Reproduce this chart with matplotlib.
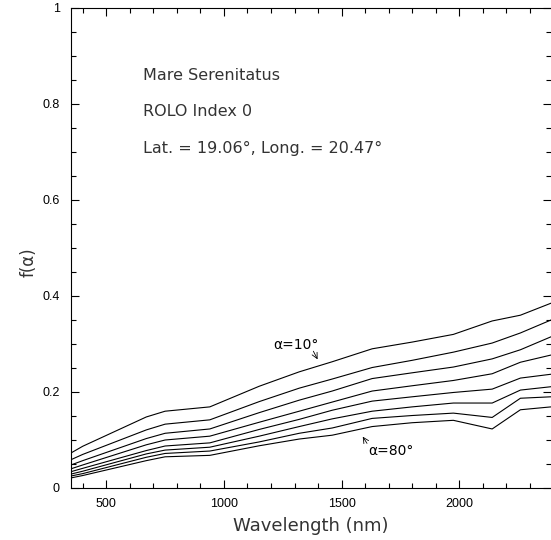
import matplotlib
matplotlib.use("Agg")
import matplotlib.pyplot as plt
from matplotlib.ticker import MultipleLocator

# wavelength nodes (nm)
wavelength = [350, 400, 670, 750, 940, 1150, 1320, 1460, 1630, 1800, 1975, 2140, 2260, 2390]

# f(alpha) for phase angles 10..80 deg
f_10 = [0.073, 0.087, 0.148, 0.160, 0.169, 0.212, 0.242, 0.263, 0.290, 0.304, 0.320, 0.348, 0.360, 0.385]
f_20 = [0.059, 0.070, 0.121, 0.133, 0.142, 0.180, 0.208, 0.227, 0.251, 0.266, 0.283, 0.302, 0.323, 0.350]
f_30 = [0.048, 0.057, 0.103, 0.114, 0.123, 0.157, 0.183, 0.202, 0.228, 0.240, 0.252, 0.269, 0.288, 0.315]
f_40 = [0.040, 0.048, 0.090, 0.100, 0.108, 0.137, 0.160, 0.179, 0.202, 0.213, 0.224, 0.238, 0.262, 0.277]
f_50 = [0.034, 0.041, 0.078, 0.0875, 0.094, 0.122, 0.143, 0.162, 0.181, 0.190, 0.199, 0.206, 0.229, 0.237]
f_60 = [0.029, 0.035, 0.071, 0.079, 0.085, 0.108, 0.128, 0.144, 0.160, 0.169, 0.177, 0.177, 0.204, 0.211]
f_70 = [0.025, 0.030, 0.064, 0.072, 0.077, 0.096, 0.114, 0.125, 0.145, 0.151, 0.156, 0.147, 0.187, 0.190]
f_80 = [0.021, 0.026, 0.057, 0.065, 0.068, 0.088, 0.102, 0.110, 0.128, 0.136, 0.141, 0.123, 0.163, 0.169]

curves = [f_10, f_20, f_30, f_40, f_50, f_60, f_70, f_80]

info_lines = ["Mare Serenitatus", "ROLO Index 0", "Lat. = 19.06\u00b0, Long. = 20.47\u00b0"]


def plot_results():
    fig = plt.figure(figsize=(5.51, 5.40), dpi=100)
    ax = fig.add_axes([71 / 551, 52 / 540, 480 / 551, 480 / 540])

    for f in curves:
        ax.plot(wavelength, f, color="black", linewidth=0.8)

    ax.set_xlim(350, 2390)
    ax.set_ylim(0, 1)

    ax.xaxis.set_major_locator(MultipleLocator(500))
    ax.xaxis.set_minor_locator(MultipleLocator(100))
    ax.yaxis.set_minor_locator(MultipleLocator(0.05))
    ax.set_yticks([0, 0.2, 0.4, 0.6, 0.8, 1.0])
    ax.set_yticklabels(["0", "0.2", "0.4", "0.6", "0.8", "1"])

    ax.tick_params(which="both", direction="in", top=True, right=True, width=0.8, colors="black")
    ax.tick_params(which="major", length=6)
    ax.tick_params(which="minor", length=3.5)
    ax.tick_params(axis="y", which="major", pad=8)
    ax.tick_params(axis="x", which="major", pad=7)
    for lab in ax.get_xticklabels() + ax.get_yticklabels():
        lab.set_fontfamily("Liberation Sans")
        lab.set_fontsize(9)

    ax.spines["right"].set_visible(False)
    for s in ["left", "top", "bottom"]:
        ax.spines[s].set_linewidth(0.8)

    ax.set_xlabel("Wavelength (nm)", fontsize=13, labelpad=5, color="#333333")
    ax.set_ylabel("f(\u03b1)", fontsize=12, color="#333333")
    ax.yaxis.set_label_coords(-0.07, 0.47)

    for i, t in enumerate(info_lines):
        ax.text(656, 0.860 - i * 0.0762, t, fontsize=11.5, color="#333333",
                va="center", ha="left")

    ax.text(1208, 0.298, "\u03b1=10\u00b0", fontsize=10, va="center", ha="left")
    ax.annotate("", xy=(1398, 0.268), xytext=(1380, 0.285),
                arrowprops=dict(arrowstyle="->", lw=0.6, color="black", shrinkA=0, shrinkB=0))
    ax.text(1612, 0.077, "\u03b1=80\u00b0", fontsize=10, va="center", ha="left")
    ax.annotate("", xy=(1590, 0.107), xytext=(1608, 0.093),
                arrowprops=dict(arrowstyle="->", lw=0.6, color="black", shrinkA=0, shrinkB=0))

    fig.savefig("out.png", dpi=100)


if __name__ == "__main__":
    plot_results()
